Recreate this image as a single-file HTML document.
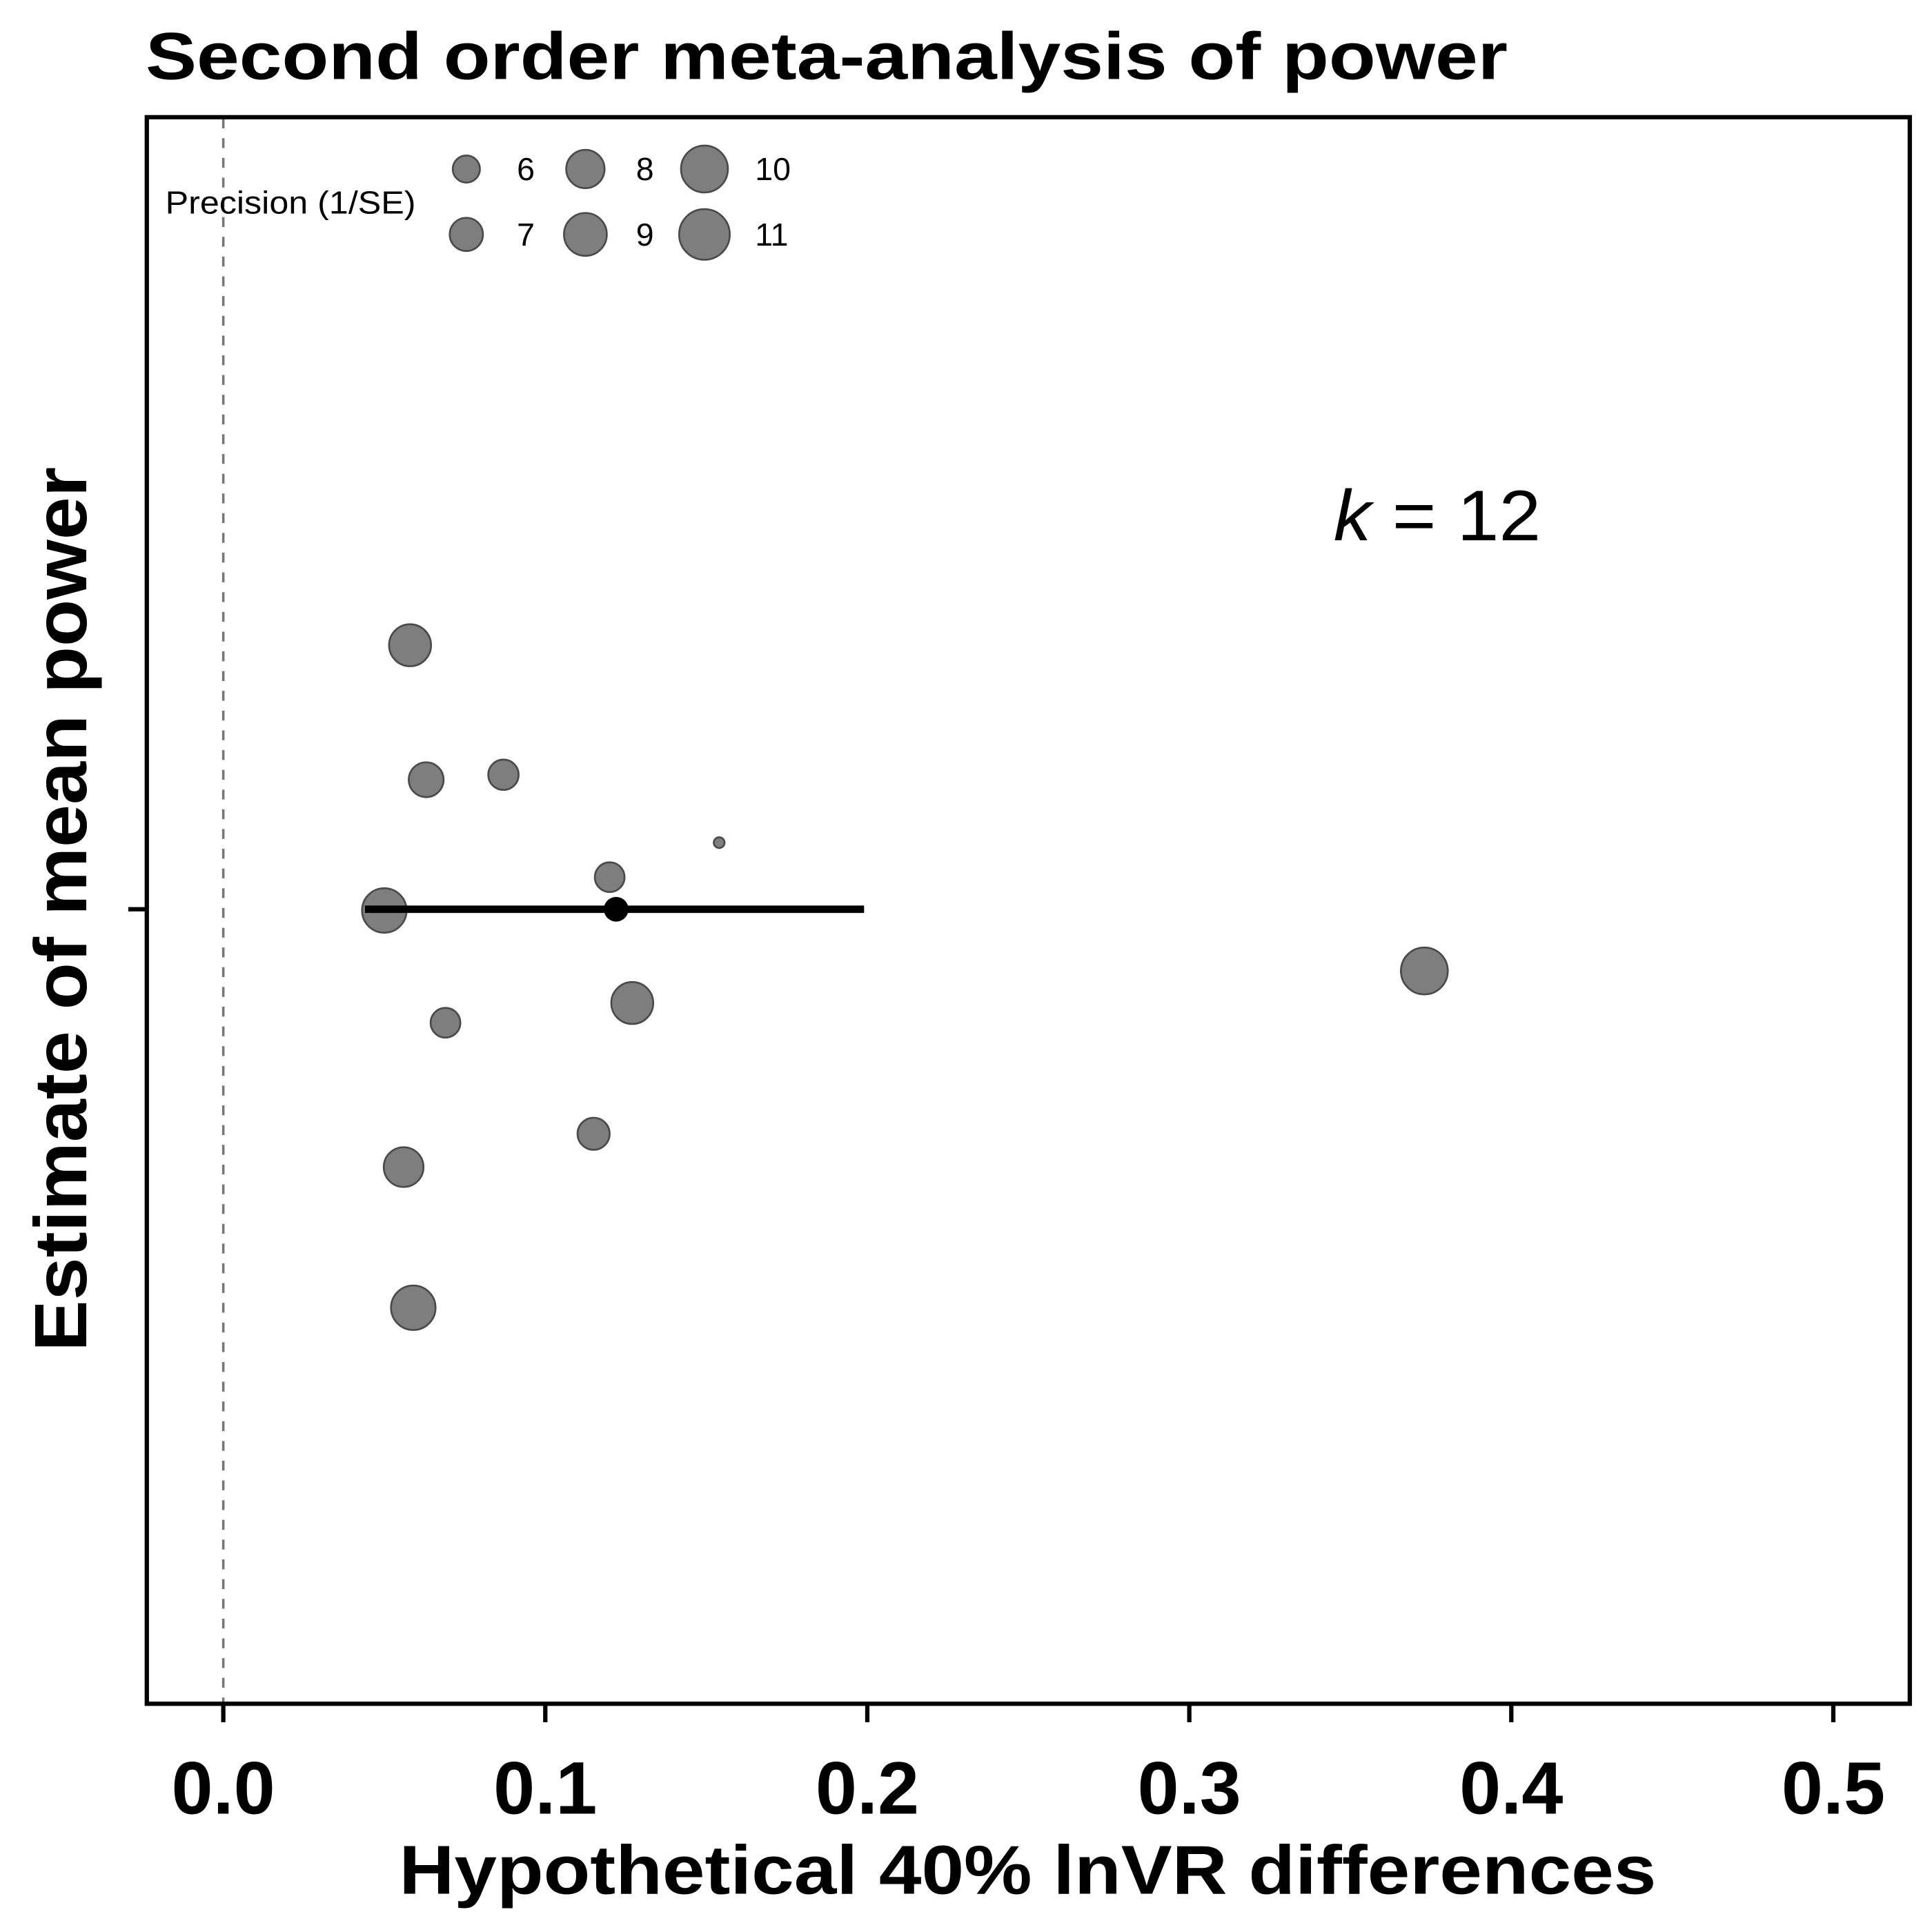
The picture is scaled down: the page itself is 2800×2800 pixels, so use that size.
<!DOCTYPE html>
<html><head><meta charset="utf-8"><style>
html,body{margin:0;padding:0;background:#fff}
svg{display:block}
text{font-family:"Liberation Sans",Arial,sans-serif}
</style></head><body>
<svg id="chart" width="2800" height="2800" viewBox="0 0 1566 1566" xmlns="http://www.w3.org/2000/svg">
<rect x="0" y="0" width="1566" height="1566" fill="#fff"/>
<text x="118" y="64" font-size="54" font-weight="bold" textLength="1104" lengthAdjust="spacingAndGlyphs">Second order meta-analysis of power</text>
<line x1="181" y1="96" x2="181" y2="1380" stroke="#777" stroke-width="2" stroke-dasharray="8,8"/>
<g id="marks"></g>
<rect x="119" y="95" width="1429" height="1286" fill="none" stroke="#000" stroke-width="3.5"/>
<line x1="104" y1="737" x2="119" y2="737" stroke="#000" stroke-width="3.5"/>
<g id="xaxis"></g>
<text x="833" y="1535" font-size="56" font-weight="bold" text-anchor="middle" textLength="1019" lengthAdjust="spacingAndGlyphs">Hypothetical 40% lnVR differences</text>
<text transform="translate(70,737) rotate(-90)" font-size="60" font-weight="bold" text-anchor="middle" textLength="717" lengthAdjust="spacingAndGlyphs">Estimate of mean power</text>
<text x="1081" y="438" font-size="58" textLength="168" lengthAdjust="spacingAndGlyphs"><tspan font-style="italic">k</tspan> = 12</text>
<text x="134" y="173" font-size="26" textLength="203" lengthAdjust="spacingAndGlyphs">Precision (1/SE)</text>
<g id="legend"></g>
</svg>
<script>
const xTicks = [0.0, 0.1, 0.2, 0.3, 0.4, 0.5];
const xTickLabels = ["0.0", "0.1", "0.2", "0.3", "0.4", "0.5"];
const pointX = [0.058, 0.063, 0.087, 0.154, 0.120, 0.050, 0.373, 0.127, 0.069, 0.115, 0.056, 0.059];
const pointY = [2.14, 1.05, 1.09, 0.54, 0.26, -0.01, -0.50, -0.76, -0.92, -1.82, -2.09, -3.23];
const pointPrecision = [8.8, 7.3, 6.5, 4.3, 6.4, 9.4, 10.0, 8.8, 6.4, 6.8, 8.3, 9.4];
const summaryEstimate = [0.122];
const summaryCI = [0.044, 0.199];
const legendValues = [6, 7, 8, 9, 10, 11];

const NS = "http://www.w3.org/2000/svg";
function xs(v){ return 181 + v * 2610; }
function ys(v){ return 737 - v * 100; }
function rs(p){ return Math.sqrt(Math.max(4, 121 + 60 * (p - 6))); }
function mk(tag, attrs, parent){
  const el = document.createElementNS(NS, tag);
  for (const k in attrs) el.setAttribute(k, attrs[k]);
  parent.appendChild(el);
  return el;
}
const marks = document.getElementById("marks");
for (let i = 0; i < pointX.length; i++) {
  const c = mk("circle", {cx: xs(pointX[i]), cy: ys(pointY[i]), r: rs(pointPrecision[i]), fill: "rgba(90,90,90,0.78)", stroke: "#4a4a4a", "stroke-width": 1.5}, marks);
  
  
}
const ci = mk("line", {x1: xs(summaryCI[0]), x2: xs(summaryCI[1]), y1: ys(0), y2: ys(0), stroke: "#000", "stroke-width": 6}, marks);


const se = mk("circle", {cx: xs(summaryEstimate[0]), cy: ys(0), r: 10, fill: "#000"}, marks);



const xaxis = document.getElementById("xaxis");
for (let i = 0; i < xTicks.length; i++) {
  const t = mk("line", {x1: xs(xTicks[i]), x2: xs(xTicks[i]), y1: 1381, y2: 1396, stroke: "#000", "stroke-width": 3.5}, xaxis);
  
  
  const l = mk("text", {x: xs(xTicks[i]), y: 1470, "font-size": 60, "font-weight": "bold", "text-anchor": "middle", textLength: 84, lengthAdjust: "spacingAndGlyphs"}, xaxis);
  l.textContent = xTickLabels[i];
  
  
}

const legend = document.getElementById("legend");
for (let i = 0; i < legendValues.length; i++) {
  const col = Math.floor(i / 2), row = i % 2;
  const cx = 378 + col * 96.5, cy = 137 + row * 53;
  const c = mk("circle", {cx: cx, cy: cy, r: rs(legendValues[i]), fill: "rgba(90,90,90,0.78)", stroke: "#4a4a4a", "stroke-width": 1.5}, legend);
  
  
  const t = mk("text", {x: cx + 41, y: cy + 9, "font-size": 26}, legend);
  t.textContent = String(legendValues[i]);
  
  
}
</script>
</body></html>
